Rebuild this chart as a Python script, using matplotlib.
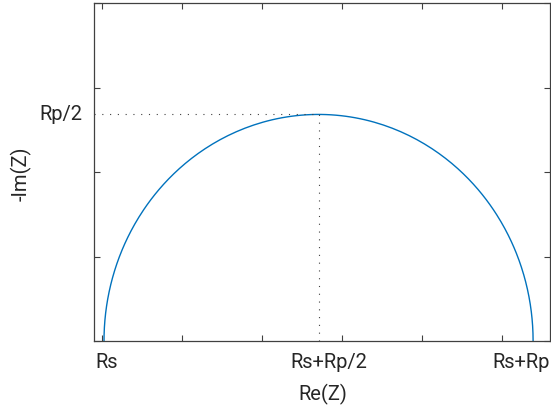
import matplotlib
matplotlib.use('Agg')
import matplotlib.pyplot as plt
import numpy as np

plt.rcParams['font.family'] = ['Roboto', 'DejaVu Sans']
plt.rcParams['xtick.direction'] = 'in'
plt.rcParams['ytick.direction'] = 'in'

# equivalent circuit values (axis units)
Rs = 0.5
Rp = 107.25
# frequency sweep for the Rs + (Rp || C) arc
omega_tau = np.logspace(-3, 3, 600)

# tick labels placed under the arc
x_label_text = ['Rs', 'Rs+Rp/2', 'Rs+Rp']
x_label_val = [Rs, Rs + Rp / 2, Rs + Rp]
x_label_shift = [3, 10, -12]   # pixel nudges seen in the reference
y_label_text = 'Rp/2'

Z = Rs + Rp / (1 + 1j * omega_tau)
re_z = Z.real
im_z = -Z.imag

px = 0.72  # points per pixel at dpi 100
fig = plt.figure(figsize=(5.51, 4.13), dpi=100)
ax = fig.add_axes([94 / 551, 72 / 413, 455.7 / 551, 338 / 413])

ax.plot(re_z, im_z, color='#0072BD', linewidth=1.0)

# guides to the top of the arc
ax.plot([-2, Rs + Rp / 2], [Rp / 2, Rp / 2], color='#404040',
        linestyle=(0, (1, 6)), linewidth=0.8)
ax.plot([Rs + Rp / 2, Rs + Rp / 2], [0, Rp / 2], color='#404040',
        linestyle=(0, (1, 6)), linewidth=0.8)

ax.set_xlim(-2, 111.9)
ax.set_ylim(0, 80)
ax.set_xticks([0, 20, 40, 60, 80, 100])
ax.set_yticks([0, 20, 40, 60, 80])
ax.set_xticklabels([])
ax.set_yticklabels([])
ax.tick_params(top=True, right=True, length=4, width=0.8, color='#404040')
for s in ax.spines.values():
    s.set_color('#404040')
    s.set_linewidth(0.9)

fs = 14.5
for txt, val, dx in zip(x_label_text, x_label_val, x_label_shift):
    ax.annotate(txt, xy=(val, 0), xycoords='data', xytext=(dx * px, -27.5 * px),
                textcoords='offset points', ha='center', va='baseline',
                fontsize=fs, color='#262626', annotation_clip=False)
ax.annotate(y_label_text, xy=(-2, Rp / 2), xycoords='data', xytext=(-12 * px, -5.7 * px),
            textcoords='offset points', ha='right', va='baseline',
            fontsize=fs, color='#262626', annotation_clip=False)

ax.set_xlabel('Re(Z)', fontsize=fs, color='#262626', va='baseline')
ax.xaxis.set_label_coords((323 - 94) / 455.7, (341 - 400.5) / 338)
ax.set_ylabel('-Im(Z)', fontsize=fs, color='#262626', va='center', ha='center')
ax.yaxis.set_label_coords((21 - 94) / 455.7, (341 - 174) / 338)

fig.savefig('out.png', dpi=100)
